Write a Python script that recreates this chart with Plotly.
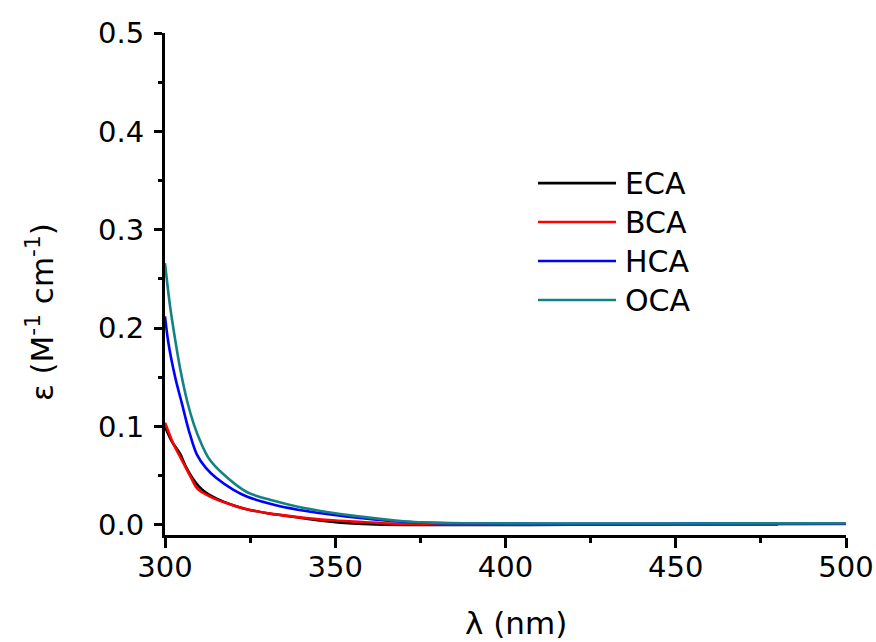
import plotly.graph_objects as go

# ---- data ----
names = ["ECA", "BCA", "HCA", "OCA"]
colors = ["#000000", "#ff0000", "#0000ff", "#148282"]

eca_x = [300, 302, 304.5, 306, 308, 310, 312, 315, 320, 324, 330, 335, 342, 348, 355, 362, 375, 390, 420, 450, 480]
eca_y = [0.100, 0.085, 0.072, 0.060, 0.048, 0.039, 0.033, 0.027, 0.020, 0.016, 0.012, 0.0095, 0.006, 0.0035, 0.0015, 0.0005, 0.0, 0.0, 0.0002, 0.0004, 0.0006]

bca_x = [300, 301, 302.5, 304.5, 307.5, 309.5, 312, 315, 320, 324, 332, 339, 348, 358, 366, 375, 390, 410, 440, 470, 500]
bca_y = [0.104, 0.095, 0.082, 0.069, 0.049, 0.037, 0.031, 0.026, 0.020, 0.016, 0.011, 0.008, 0.005, 0.003, 0.0015, 0.0007, 0.0005, 0.0005, 0.0006, 0.0008, 0.001]

hca_x = [300, 301, 303, 305, 307, 309.3, 312, 315, 320, 324, 332, 339, 348, 358, 370, 380, 392, 410, 440, 470, 500]
hca_y = [0.212, 0.185, 0.150, 0.123, 0.096, 0.072, 0.058, 0.048, 0.036, 0.029, 0.0205, 0.0155, 0.0110, 0.0068, 0.0032, 0.0019, 0.0015, 0.0013, 0.0013, 0.0014, 0.0016]

oca_x = [300, 301.5, 303, 304.5, 306.5, 308.5, 310.5, 313, 317, 324, 332, 339, 348, 358, 370, 380, 392, 410, 440, 470, 500]
oca_y = [0.266, 0.222, 0.188, 0.158, 0.126, 0.102, 0.084, 0.067, 0.052, 0.0335, 0.0245, 0.0185, 0.0130, 0.0082, 0.0037, 0.0021, 0.0017, 0.0015, 0.0015, 0.0016, 0.0018]

xs = [eca_x, bca_x, hca_x, oca_x]
ys = [eca_y, bca_y, hca_y, oca_y]

x_ticks = [300, 350, 400, 450, 500]
y_ticks = [0.0, 0.1, 0.2, 0.3, 0.4, 0.5]

FONT = "DejaVu Sans, Arial, sans-serif"

fig = go.Figure()
for n, c, x, y in zip(names, colors, xs, ys):
    fig.add_trace(go.Scatter(x=x, y=y, name=n, mode="lines",
                             line=dict(color=c, width=2.6, shape="spline", smoothing=0.9),
                             showlegend=False))

# manual legend (long sample lines as in the reference)
leg_y = [0.701, 0.6235, 0.5458, 0.4681]
for n, c, ly in zip(names, colors, leg_y):
    fig.add_shape(type="line", xref="paper", yref="paper",
                  x0=0.5477, x1=0.6623, y0=ly, y1=ly,
                  line=dict(color=c, width=2.6))
    fig.add_annotation(text=n, xref="paper", yref="paper", x=0.672, y=ly,
                       xanchor="left", yanchor="middle", showarrow=False,
                       font=dict(size=30, color="black", family=FONT))

fig.add_annotation(text="λ (nm)", xref="paper", yref="paper", x=0.515, y=-0.175,
                   xanchor="center", yanchor="middle", showarrow=False,
                   font=dict(size=31, color="black", family=FONT))
fig.add_annotation(text="ε (M<sup>-1</sup> cm<sup>-1</sup>)", xref="paper", yref="paper",
                   x=-0.1836, y=0.444, textangle=-90,
                   xanchor="center", yanchor="middle", showarrow=False,
                   font=dict(size=31, color="black", family=FONT))

fig.update_xaxes(range=[300, 500], tickvals=x_ticks, ticktext=[str(v) for v in x_ticks],
                 automargin=False,
                 showgrid=False, zeroline=False, showline=True, linecolor="black", linewidth=3,
                 ticks="outside", ticklen=10, tickwidth=2.5, tickcolor="black",
                 ticklabelstandoff=-6,
                 minor=dict(ticks="outside", ticklen=5, tickwidth=2.5, tickcolor="black", dtick=25, showgrid=False),
                 tickfont=dict(size=29, color="black", family=FONT))
fig.update_yaxes(range=[-0.0102, 0.5], tickvals=y_ticks, ticktext=[f"{v:.1f}" for v in y_ticks],
                 automargin=False,
                 showgrid=False, zeroline=False, showline=True, linecolor="black", linewidth=3,
                 ticks="outside", ticklen=8, tickwidth=2.5, tickcolor="black",
                 ticklabelstandoff=4,
                 minor=dict(ticks="outside", ticklen=4, tickwidth=2.5, tickcolor="black", dtick=0.05, showgrid=False),
                 tickfont=dict(size=29, color="black", family=FONT))

fig.update_layout(width=876, height=642, margin=dict(l=165, r=30, t=33, b=107),
                  paper_bgcolor="white", plot_bgcolor="white")

fig.write_html("out.html")
